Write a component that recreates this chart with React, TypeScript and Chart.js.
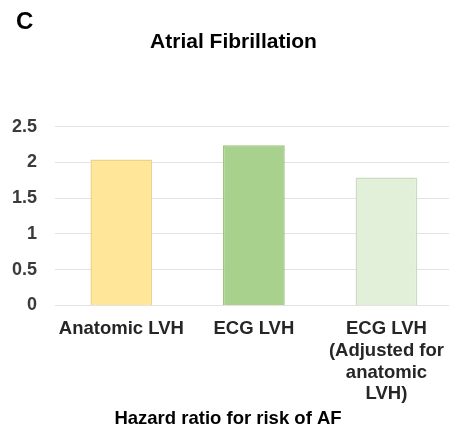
import React, { useEffect, useRef } from "react";
import { Chart, registerables } from "chart.js";

Chart.register(...registerables);

const panelLabel = "C";
const chartTitle = "Atrial Fibrillation";
const axisCaption = "Hazard ratio for risk of AF";
const categories: (string | string[])[] = [
  "Anatomic LVH",
  "ECG LVH",
  ["ECG LVH", "(Adjusted for", "anatomic", "LVH)"],
];
const hazardRatios = [2.04, 2.24, 1.79];
const barColors = ["#FFE699", "#A9D18E", "#E2F0D9"];
const barBorders = ["#E9D48C", "#9CC483", "#CCDCC3"];
const yTicks = [0, 0.5, 1, 1.5, 2, 2.5];

const FONT = "'Liberation Sans', Arial, sans-serif";

const textPlugin = {
  id: "extraText",
  afterDraw(chart: any) {
    const ctx = chart.ctx;
    ctx.save();
    ctx.fillStyle = "#000";
    ctx.textBaseline = "middle";
    ctx.font = `bold 24px ${FONT}`;
    ctx.textAlign = "left";
    ctx.fillText(panelLabel, 16, 22);
    ctx.font = `bold 21px ${FONT}`;
    ctx.textAlign = "center";
    ctx.fillText(chartTitle, 233.5, 42);
    ctx.font = `bold 18.5px ${FONT}`;
    ctx.fillText(axisCaption, 228, 419);
    ctx.restore();
  },
};

export default function App() {
  const ref = useRef<HTMLCanvasElement>(null);
  useEffect(() => {
    document.body.style.margin = "0";
    document.body.style.overflow = "hidden";
    const chart = new Chart(ref.current!, {
      type: "bar",
      data: {
        labels: categories,
        datasets: [
          {
            data: hazardRatios,
            backgroundColor: barColors,
            borderColor: barBorders,
            borderWidth: 1.5,
            barPercentage: 0.466,
            categoryPercentage: 1,
          },
        ],
      },
      options: {
        responsive: false,
        animation: false,
        devicePixelRatio: 1,
        layout: { padding: { left: -6, right: 0, top: 126.7, bottom: 12 } },
        plugins: {
          legend: { display: false },
          tooltip: { enabled: false },
          title: { display: false },
        },
        scales: {
          x: {
            grid: { display: false, drawTicks: false },
            border: { display: false },
            ticks: {
              color: "#262626",
              padding: 13,
              maxRotation: 0,
              autoSkip: false,
              font: { family: FONT, size: 18.5, weight: "bold", lineHeight: 1.17 },
            },
          },
          y: {
            min: yTicks[0],
            max: yTicks[yTicks.length - 1],
            grid: { color: "#E3E3E3", drawTicks: false, lineWidth: 1 },
            border: { display: false },
            afterBuildTicks: (axis: any) => {
              axis.ticks = yTicks.map((v) => ({ value: v }));
            },
            ticks: {
              color: "#3A3A3A",
              padding: 18,
              callback: (v: any) => String(v),
              font: { family: FONT, size: 18, weight: "bold" },
            },
          },
        },
      },
      plugins: [textPlugin],
    });
    return () => chart.destroy();
  }, []);
  return (
    <div style={{ position: "fixed", left: 0, top: 0, width: 449, height: 430, overflow: "hidden", background: "#fff" }}>
      <canvas ref={ref} width={457} height={430} style={{ display: "block" }} />
    </div>
  );
}
